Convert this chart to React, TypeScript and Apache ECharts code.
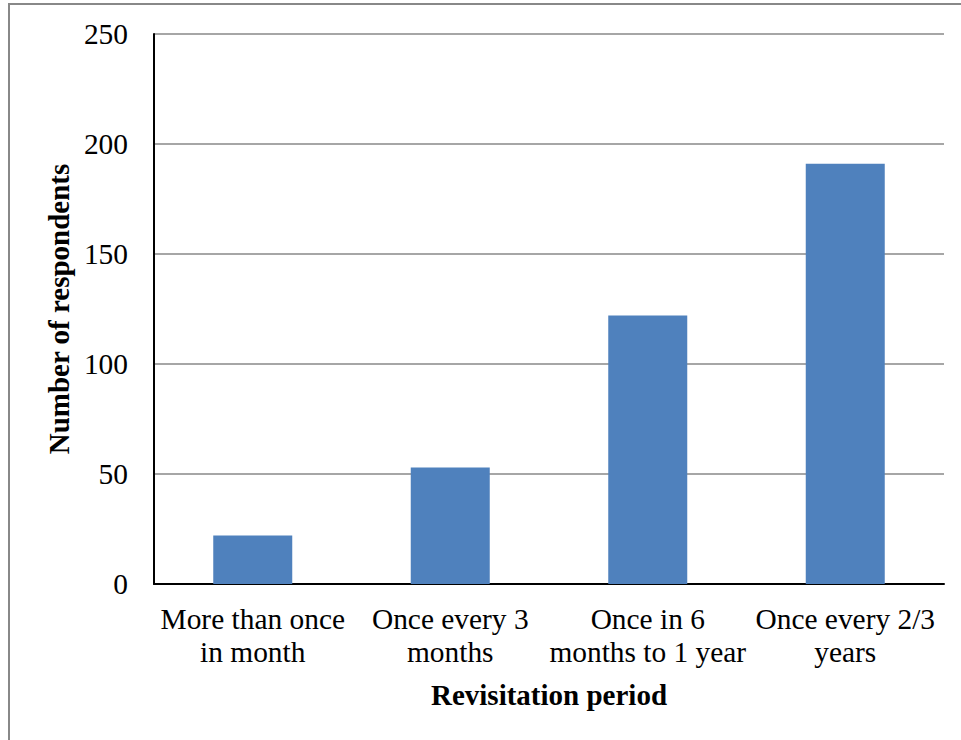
import React, { useEffect, useRef } from "react";
import * as echarts from "echarts";

const categories: string[] = [
  "More than once\nin month",
  "Once every 3\nmonths",
  "Once in 6\nmonths to 1 year",
  "Once every 2/3\nyears",
];
const respondents: number[] = [22, 53, 122, 191];
const yTicks = { min: 0, max: 250, interval: 50 };
const xTitle = "Revisitation period";
const yTitle = "Number of respondents";

const FONT = "'Liberation Serif', 'Times New Roman', serif";

export default function App() {
  const ref = useRef<HTMLDivElement>(null);
  useEffect(() => {
    if (!ref.current) return;
    const chart = echarts.init(ref.current, undefined, { renderer: "svg" });
    chart.setOption({
      animation: false,
      backgroundColor: "#ffffff",
      textStyle: { fontFamily: FONT },
      graphic: [
        {
          type: "rect",
          shape: { x: 9, y: 4, width: 1000, height: 800 },
          style: { fill: "none", stroke: "#888888", lineWidth: 2 },
          silent: true,
        },
      ],
      grid: { left: 154, right: 17, top: 34, bottom: 156 },
      xAxis: {
        type: "category",
        data: categories,
        name: xTitle,
        nameLocation: "middle",
        nameGap: 96,
        nameTextStyle: { fontFamily: FONT, fontSize: 29, fontWeight: "bold", color: "#000" },
        axisLine: { lineStyle: { color: "#000", width: 2 } },
        axisTick: { show: false },
        axisLabel: {
          interval: 0,
          margin: 18,
          fontFamily: FONT,
          fontSize: 29.4,
          lineHeight: 33,
          color: "#000",
        },
      },
      yAxis: {
        type: "value",
        min: yTicks.min,
        max: yTicks.max,
        interval: yTicks.interval,
        name: yTitle,
        nameLocation: "middle",
        nameGap: 77,
        nameRotate: 90,
        nameTextStyle: { fontFamily: FONT, fontSize: 29, fontWeight: "bold", color: "#000" },
        axisLine: { show: true, lineStyle: { color: "#000", width: 2 } },
        axisTick: { show: false },
        axisLabel: { margin: 26, fontFamily: FONT, fontSize: 29.4, color: "#000" },
        splitLine: { lineStyle: { color: "#888888", width: 1.5 } },
      },
      series: [
        {
          type: "bar",
          data: respondents,
          barWidth: "40%",
          itemStyle: { color: "#4F81BD" },
        },
      ],
    });
    return () => chart.dispose();
  }, []);
  return (
    <div
      ref={ref}
      style={{ position: "fixed", left: 0, top: 0, width: 961, height: 740, background: "#fff" }}
    />
  );
}
